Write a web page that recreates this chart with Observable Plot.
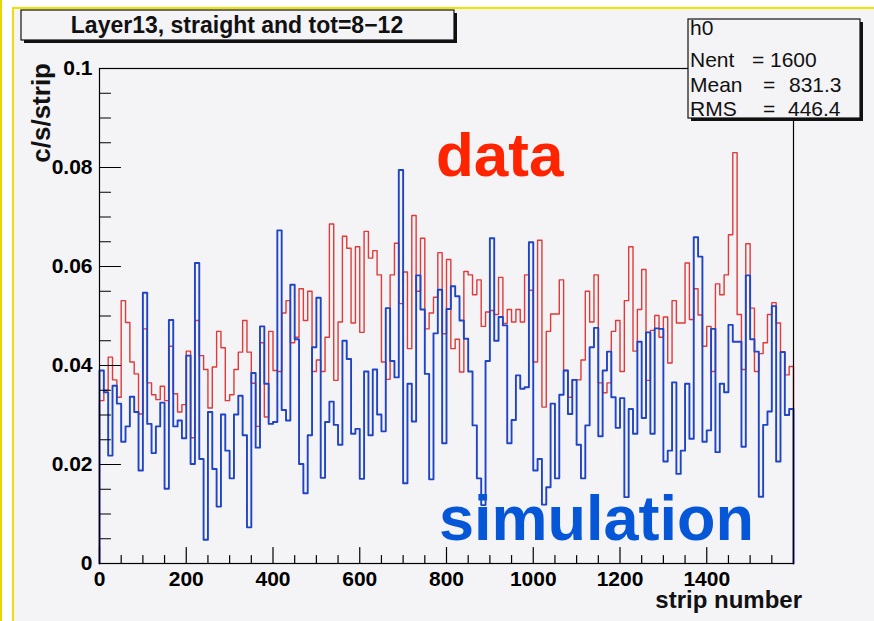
<!DOCTYPE html>
<html>
<head>
<meta charset="utf-8">
<script src="https://cdn.jsdelivr.net/npm/d3@7"></script>
<script src="https://cdn.jsdelivr.net/npm/@observablehq/plot@0.6"></script>
<style>
  html, body { margin: 0; padding: 0; background: #ffffff; }
  #wrap { position: relative; width: 874px; height: 621px; overflow: hidden; background: #ffffff; }
  #edge { position: absolute; left: 0; top: 0; width: 2px; height: 621px; background: #e8d800; }
  #canvas { position: absolute; left: 12px; top: 7px; right: 0; bottom: 0; background: #f4f3f6;
            border-left: 2px solid #ecdc10; border-top: 2px solid #f2e200; }
  #chart { position: absolute; left: 0; top: 0; }
</style>
</head>
<body>
<div id="wrap">
  <div id="edge"></div>
  <div id="canvas"></div>
  <div id="chart"></div>
</div>
<script>
// Histogram h0: counts per second per strip, 160 bins of 10 strips each
const binWidth = 10;

// Measured rate ("data")
const dataRate = [
  0.0329, 0.0350, 0.0417, 0.0371, 0.0336, 0.0531, 0.0487, 0.0407, 0.0383, 0.0302,
  0.0474, 0.0365, 0.0341, 0.0331, 0.0358, 0.0329, 0.0439, 0.0343, 0.0306, 0.0321,
  0.0429, 0.0254, 0.0491, 0.0420, 0.0392, 0.0314, 0.0397, 0.0469, 0.0436, 0.0329,
  0.0341, 0.0392, 0.0427, 0.0491, 0.0427, 0.0364, 0.0277, 0.0446, 0.0296, 0.0469,
  0.0390, 0.0388, 0.0506, 0.0531, 0.0446, 0.0457, 0.0555, 0.0491, 0.0550, 0.0388,
  0.0411, 0.0388, 0.0457, 0.0686, 0.0370, 0.0488, 0.0661, 0.0637, 0.0486, 0.0640,
  0.0467, 0.0671, 0.0617, 0.0632, 0.0583, 0.0407, 0.0372, 0.0583, 0.0647, 0.0525,
  0.0589, 0.0434, 0.0703, 0.0550, 0.0657, 0.0474, 0.0506, 0.0538, 0.0628, 0.0464,
  0.0614, 0.0434, 0.0453, 0.0387, 0.0590, 0.0583, 0.0543, 0.0573, 0.0479, 0.0508,
  0.0511, 0.0503, 0.0578, 0.0485, 0.0513, 0.0488, 0.0513, 0.0488, 0.0583, 0.0552,
  0.0407, 0.0653, 0.0316, 0.0469, 0.0504, 0.0504, 0.0573, 0.0390, 0.0336, 0.0371,
  0.0371, 0.0411, 0.0550, 0.0488, 0.0583, 0.0365, 0.0345, 0.0365, 0.0469, 0.0491,
  0.0388, 0.0531, 0.0640, 0.0429, 0.0513, 0.0594, 0.0370, 0.0471, 0.0501, 0.0457,
  0.0498, 0.0405, 0.0531, 0.0486, 0.0486, 0.0607, 0.0493, 0.0555, 0.0502, 0.0439,
  0.0479, 0.0388, 0.0565, 0.0543, 0.0583, 0.0664, 0.0830, 0.0503, 0.0392, 0.0646,
  0.0516, 0.0388, 0.0424, 0.0446, 0.0503, 0.0527, 0.0486, 0.0428, 0.0381, 0.0398
];

// Simulated rate ("simulation")
const simRate = [
  0.0390, 0.0346, 0.0218, 0.0359, 0.0323, 0.0246, 0.0277, 0.0337, 0.0306, 0.0188,
  0.0547, 0.0282, 0.0223, 0.0277, 0.0325, 0.0151, 0.0492, 0.0277, 0.0289, 0.0253,
  0.0420, 0.0201, 0.0607, 0.0211, 0.0048, 0.0306, 0.0191, 0.0115, 0.0301, 0.0228,
  0.0172, 0.0301, 0.0339, 0.0259, 0.0073, 0.0385, 0.0234, 0.0479, 0.0363, 0.0282,
  0.0286, 0.0673, 0.0310, 0.0289, 0.0563, 0.0453, 0.0201, 0.0142, 0.0259, 0.0437,
  0.0537, 0.0173, 0.0286, 0.0327, 0.0280, 0.0240, 0.0450, 0.0413, 0.0262, 0.0272,
  0.0171, 0.0388, 0.0259, 0.0392, 0.0301, 0.0267, 0.0516, 0.0409, 0.0376, 0.0795,
  0.0162, 0.0363, 0.0287, 0.0582, 0.0513, 0.0383, 0.0170, 0.0465, 0.0553, 0.0243,
  0.0514, 0.0560, 0.0540, 0.0491, 0.0454, 0.0388, 0.0279, 0.0172, 0.0118, 0.0409,
  0.0657, 0.0450, 0.0498, 0.0481, 0.0243, 0.0290, 0.0380, 0.0353, 0.0356, 0.0649,
  0.0188, 0.0211, 0.0119, 0.0154, 0.0323, 0.0172, 0.0341, 0.0390, 0.0302, 0.0371,
  0.0240, 0.0172, 0.0279, 0.0437, 0.0476, 0.0257, 0.0390, 0.0428, 0.0336, 0.0274,
  0.0334, 0.0134, 0.0312, 0.0262, 0.0448, 0.0294, 0.0467, 0.0262, 0.0475, 0.0474,
  0.0206, 0.0228, 0.0366, 0.0181, 0.0228, 0.0363, 0.0252, 0.0659, 0.0620, 0.0246,
  0.0269, 0.0474, 0.0225, 0.0363, 0.0346, 0.0482, 0.0448, 0.0448, 0.0236, 0.0582,
  0.0453, 0.0428, 0.0135, 0.0280, 0.0307, 0.0520, 0.0206, 0.0427, 0.0300, 0.0312
];

// Axis ticks and labels
const xTicks = [0, 200, 400, 600, 800, 1000, 1200, 1400];
const xTickLabels = ["0", "200", "400", "600", "800", "1000", "1200", "1400"];
const yTicks = [0, 0.02, 0.04, 0.06, 0.08, 0.1];
const yTickLabels = ["0", "0.02", "0.04", "0.06", "0.08", "0.1"];
const xMinorTicks = d3.range(50, 1600, 50).filter(v => v % 200 !== 0);
const yMinorTicks = d3.range(1, 20).map(i => i * 0.005).filter((v, i) => (i + 1) % 4 !== 0);

// Statistics box
const statsName = "h0";
const statsLines = [
  {label: "Nent", value: "1600"},
  {label: "Mean", value: "831.3"},
  {label: "RMS", value: "446.4"}
];
const titleText = "Layer13, straight and tot=8\u221212";

// Histogram outline: starts and ends on the axis, steps across each bin
function outline(values) {
  const pts = [{x: 0, y: 0}];
  values.forEach((v, i) => pts.push({x: i * binWidth, y: v}));
  const end = values.length * binWidth;
  pts.push({x: end, y: values[values.length - 1]});
  pts.push({x: end, y: 0});
  return pts;
}

const tickShape = {draw(context, l) { context.moveTo(0, 0); context.lineTo(0, -l); }};
const font = "'Liberation Sans', Arial, Helvetica, sans-serif";
const bg = "#f4f3f6";

const chart = Plot.plot({
  width: 874,
  height: 621,
  marginLeft: 99,
  marginRight: 81,
  marginTop: 68,
  marginBottom: 58,
  style: {background: "transparent", fontFamily: font, color: "black", overflow: "visible"},
  x: {domain: [0, 1600]},
  y: {domain: [0, 0.1]},
  marks: [
    Plot.line(outline(dataRate), {x: "x", y: "y", curve: "step-after", stroke: "#e03a3a", strokeWidth: 1.4}),
    Plot.line(outline(simRate), {x: "x", y: "y", curve: "step-after", stroke: "#1f45c6", strokeWidth: 1.9}),
    Plot.frame({stroke: "black", strokeWidth: 1.2}),
    Plot.vector(yTicks, {y: d => d, frameAnchor: "left", length: 21, rotate: 90, anchor: "start", shape: tickShape, stroke: "black", strokeWidth: 1.2}),
    Plot.vector(yMinorTicks, {y: d => d, frameAnchor: "left", length: 11, rotate: 90, anchor: "start", shape: tickShape, stroke: "black", strokeWidth: 1.2}),
    Plot.vector(xTicks, {x: d => d, frameAnchor: "bottom", length: 16, rotate: 0, anchor: "start", shape: tickShape, stroke: "black", strokeWidth: 1.2}),
    Plot.vector(xMinorTicks, {x: d => d, frameAnchor: "bottom", length: 8, rotate: 0, anchor: "start", shape: tickShape, stroke: "black", strokeWidth: 1.2}),
    Plot.axisY(yTicks, {tickSize: 0, tickPadding: 7, tickFormat: d => yTickLabels[yTicks.indexOf(d)],
      fontWeight: "bold", fontSize: 21, label: null}),
    Plot.axisX(xTicks, {tickSize: 0, tickPadding: 8, tickFormat: d => xTickLabels[xTicks.indexOf(d)],
      fontWeight: "bold", fontSize: 21, label: null})
  ]
});
document.getElementById("chart").appendChild(chart);

const svg = d3.select(chart);
const overlay = svg.append("g").attr("text-anchor", "start").attr("font-family", font).attr("fill", "#111");

// Boxes with a drop shadow on the right and bottom
function shadowBox(g, x, y, w, h) {
  g.append("rect").attr("x", x + 3).attr("y", y + 3).attr("width", w).attr("height", h).attr("fill", "#111");
  g.append("rect").attr("x", x).attr("y", y).attr("width", w).attr("height", h)
    .attr("fill", bg).attr("stroke", "#111").attr("stroke-width", 1.2);
}

// Title box
const tg = overlay.append("g");
shadowBox(tg, 21, 10, 433, 30);
tg.append("text").attr("x", 237).attr("y", 33).attr("text-anchor", "middle")
  .attr("font-weight", "bold").attr("font-size", 23).attr("fill", "#111")
  .text(titleText);

// Statistics box
const sg = overlay.append("g").attr("font-size", 21).attr("fill", "#111");
shadowBox(sg, 688, 19, 172, 99);
sg.append("text").attr("x", 690).attr("y", 35).text(statsName);
const eqX = [752, 763, 763];
const valX = [770, 789, 788];
statsLines.forEach((d, i) => {
  const y = 67 + i * 24.5;
  sg.append("text").attr("x", 690).attr("y", y).text(d.label);
  sg.append("text").attr("x", eqX[i]).attr("y", y).text("=");
  sg.append("text").attr("x", valX[i]).attr("y", y).text(d.value);
});

// Axis titles
overlay.append("text")
  .attr("transform", "translate(50,63) rotate(-90)")
  .attr("text-anchor", "end")
  .attr("font-weight", "bold").attr("font-size", 26)
  .text("c/s/strip");
overlay.append("text").attr("x", 802).attr("y", 608).attr("text-anchor", "end")
  .attr("font-weight", "bold").attr("font-size", 24)
  .text("strip number");

// Series labels
overlay.append("text").attr("x", 436).attr("y", 176)
  .attr("font-weight", "bold").attr("font-size", 62).attr("fill", "#ff2400")
  .text("data");
overlay.append("text").attr("x", 439).attr("y", 540)
  .attr("font-weight", "bold").attr("font-size", 63).attr("fill", "#0656d8")
  .text("simulation");
</script>
</body>
</html>
